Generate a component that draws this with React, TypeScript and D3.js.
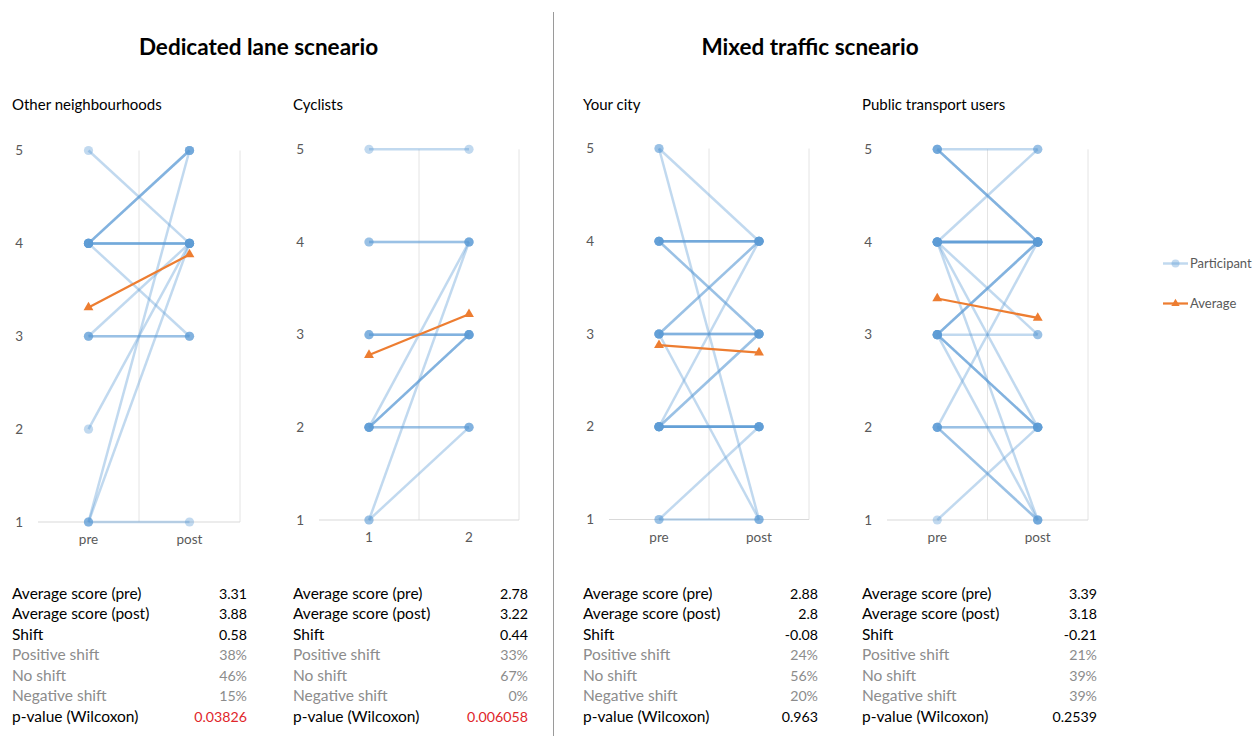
import React from 'react';
import * as d3 from 'd3';

// ---------- data ----------
const scoreTicks = [1, 2, 3, 4, 5];
const prePostCategories = ['pre', 'post'];
const cyclistCategories = ['1', '2'];

const scenarioTitles = ['Dedicated lane scneario', 'Mixed traffic scneario'];
const panelTitles = ['Other neighbourhoods', 'Cyclists', 'Your city', 'Public transport users'];

// participant scores (pre, post), one entry per participant
const otherPre = [5, 4, 4, 4, 4, 4, 4, 4, 4, 3, 3, 3, 2, 1, 1, 1];
const otherPost = [4, 5, 5, 5, 4, 4, 4, 4, 3, 3, 3, 4, 4, 5, 4, 1];

const cyclistPre = [5, 4, 4, 3, 3, 3, 2, 2, 2, 2, 2, 2, 1, 1];
const cyclistPost = [5, 4, 4, 3, 3, 3, 3, 3, 3, 2, 2, 4, 4, 2];

const cityPre = [5, 5, 4, 4, 4, 4, 4, 4, 3, 3, 3, 3, 3, 3, 2, 2, 2, 2, 2, 2, 2, 2, 2, 1, 1];
const cityPost = [4, 1, 4, 4, 4, 4, 3, 3, 4, 4, 3, 3, 3, 1, 4, 3, 3, 2, 2, 2, 2, 2, 2, 2, 1];

const ptPre = [5, 5, 5, 5, 4, 4, 4, 4, 4, 4, 4, 4, 4, 4, 3, 3, 3, 3, 3, 3, 3, 3, 2, 2, 2, 2, 2, 1];
const ptPost = [5, 4, 4, 4, 5, 4, 4, 4, 4, 4, 4, 3, 2, 1, 4, 4, 4, 3, 2, 2, 2, 1, 4, 2, 2, 1, 1, 2];

const otherAverage = [3.31, 3.88];
const cyclistAverage = [2.78, 3.22];
const cityAverage = [2.88, 2.8];
const ptAverage = [3.39, 3.18];

const statLabels = [
  'Average score (pre)',
  'Average score (post)',
  'Shift',
  'Positive shift',
  'No shift',
  'Negative shift',
  'p-value (Wilcoxon)',
];
const otherStats = ['3.31', '3.88', '0.58', '38%', '46%', '15%', '0.03826'];
const cyclistStats = ['2.78', '3.22', '0.44', '33%', '67%', '0%', '0.006058'];
const cityStats = ['2.88', '2.8', '-0.08', '24%', '56%', '20%', '0.963'];
const ptStats = ['3.39', '3.18', '-0.21', '21%', '39%', '39%', '0.2539'];
const significant = [true, true, false, false];

const legendLabels = ['Participant', 'Average'];

// ---------- layout ----------
const BLUE = '#5B9BD5';
const ORANGE = '#ED7D31';
const FONT = 'Lato, "Open Sans", sans-serif';

const panels = [
  { title: panelTitles[0], cats: prePostCategories, pre: otherPre, post: otherPost, avg: otherAverage, stats: otherStats,
    left: 38, right: 240, top: 150.5, bottom: 522, titleX: 12, tableX: 12, tableR: 247 },
  { title: panelTitles[1], cats: cyclistCategories, pre: cyclistPre, post: cyclistPost, avg: cyclistAverage, stats: cyclistStats,
    left: 319, right: 519, top: 149.3, bottom: 520, titleX: 293, tableX: 293, tableR: 528 },
  { title: panelTitles[2], cats: prePostCategories, pre: cityPre, post: cityPost, avg: cityAverage, stats: cityStats,
    left: 609, right: 809, top: 148.5, bottom: 519.5, titleX: 583, tableX: 583, tableR: 818 },
  { title: panelTitles[3], cats: prePostCategories, pre: ptPre, post: ptPost, avg: ptAverage, stats: ptStats,
    left: 887, right: 1088, top: 149.3, bottom: 520, titleX: 862, tableX: 862, tableR: 1097 },
];

const tableBase = 598.5;
const tableStep = 20.5;

function Panel({ p, idx }: { p: any; idx: number }) {
  const x = d3.scaleBand<string>().domain(p.cats).range([p.left, p.right]).padding(0);
  const cx = (c: string) => (x(c) as number) + x.bandwidth() / 2;
  const y = d3.scaleLinear().domain([1, 5]).range([p.bottom, p.top]);
  const line = d3.line<[string, number]>().x((d) => cx(d[0])).y((d) => y(d[1]));
  const participants: [string, number][][] = p.pre.map((v: number, i: number) => [
    [p.cats[0], v],
    [p.cats[1], p.post[i]],
  ]);
  const avgPts: [string, number][] = p.cats.map((c: string, i: number) => [c, p.avg[i]]);
  const tri = d3.symbol().type(d3.symbolTriangle).size(42)();
  const mid = x(p.cats[1]) as number;

  return (
    <g>
      <text x={p.titleX} y={110} fontFamily={FONT} fontSize={15} fill="#000">{p.title}</text>
      {[mid, p.right].map((gx, i) => (
        <line key={i} x1={gx} x2={gx} y1={p.top} y2={p.bottom} stroke="#E4E4E4" strokeWidth={1} />
      ))}
      <line x1={p.left} x2={p.right} y1={p.bottom} y2={p.bottom} stroke="#D9D9D9" strokeWidth={1} />
      {scoreTicks.map((t) => (
        <text key={t} x={p.left - 15} y={y(t)} dy="0.35em" textAnchor="end" fontFamily={FONT} fontSize={13.5} fill="#595959">{t}</text>
      ))}
      {p.cats.map((c: string) => (
        <text key={c} x={cx(c)} y={p.bottom + 22} textAnchor="middle" fontFamily={FONT} fontSize={13.5} fill="#595959">{c}</text>
      ))}
      {participants.map((pts, i) => (
        <g key={i}>
          <path d={line(pts) as string} fill="none" stroke={BLUE} strokeOpacity={0.38} strokeWidth={2.5} />
          {pts.map((d, j) => (
            <circle key={j} cx={cx(d[0])} cy={y(d[1])} r={4.6} fill={BLUE} fillOpacity={0.38} />
          ))}
        </g>
      ))}
      <path d={line(avgPts) as string} fill="none" stroke={ORANGE} strokeWidth={2.25} />
      {avgPts.map((d, j) => (
        <path key={j} d={tri as string} transform={`translate(${cx(d[0])},${y(d[1])})`} fill={ORANGE} />
      ))}
      {statLabels.map((lab, i) => {
        const gray = i >= 3 && i <= 5;
        const col = gray ? '#8C8C8C' : '#000';
        const valCol = i === 6 && significant[idx] ? '#E0262B' : col;
        return (
          <g key={lab}>
            <text x={p.tableX} y={tableBase + i * tableStep} fontFamily={FONT} fontSize={15.5} fill={col}>{lab}</text>
            <text x={p.tableR} y={tableBase + i * tableStep} textAnchor="end" fontFamily={FONT} fontSize={14.2} fill={valCol}>{p.stats[i]}</text>
          </g>
        );
      })}
    </g>
  );
}

export default function App() {
  const tri = d3.symbol().type(d3.symbolTriangle).size(30)();
  return (
    <svg width={1259} height={736} style={{ position: 'absolute', left: 0, top: 0, background: '#fff' }}>
      <rect x={0} y={0} width={1259} height={736} fill="#fff" />
      <text x={258.5} y={55} textAnchor="middle" fontFamily={FONT} fontWeight={700} fontSize={22.5} fill="#000">{scenarioTitles[0]}</text>
      <text x={810} y={55} textAnchor="middle" fontFamily={FONT} fontWeight={700} fontSize={22.5} fill="#000">{scenarioTitles[1]}</text>
      <line x1={553.5} x2={553.5} y1={12} y2={736} stroke="#9A9A9A" strokeWidth={1} />
      {panels.map((p, i) => (
        <Panel key={i} p={p} idx={i} />
      ))}
      <g>
        <line x1={1163} x2={1188} y1={263.5} y2={263.5} stroke={BLUE} strokeOpacity={0.38} strokeWidth={2.5} />
        <circle cx={1175.5} cy={263.5} r={4} fill={BLUE} fillOpacity={0.38} />
        <text x={1190} y={263.5} dy="0.35em" fontFamily={FONT} fontSize={13} fill="#595959">{legendLabels[0]}</text>
        <line x1={1163} x2={1188} y1={303.5} y2={303.5} stroke={ORANGE} strokeWidth={2.25} />
        <path d={tri as string} transform="translate(1175.5,303.5)" fill={ORANGE} />
        <text x={1190} y={303.5} dy="0.35em" fontFamily={FONT} fontSize={13} fill="#595959">{legendLabels[1]}</text>
      </g>
    </svg>
  );
}
